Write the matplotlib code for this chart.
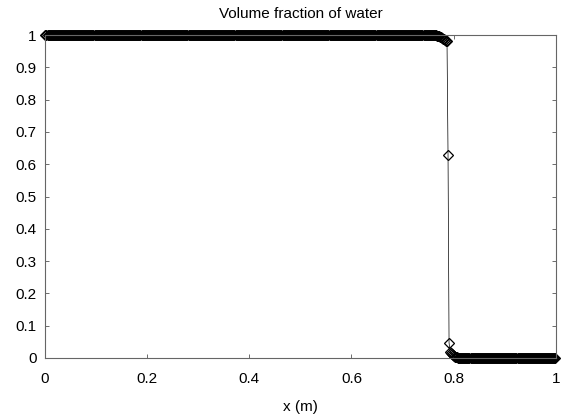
import numpy as np
import matplotlib.pyplot as plt

plt.rcParams['font.family'] = ['Liberation Sans', 'DejaVu Sans']

# mesh: uniform cells on [0, 1]
n_cells = 500
x = (np.arange(n_cells) + 0.5) / n_cells

# water volume fraction
alpha_water = 1.0   # left of the interface
alpha_air = 0.0     # right of the interface
# smeared interface, x ~ 0.759 .. 0.82
interface = [1.0, 0.9998, 0.9995, 0.999, 0.998, 0.997, 0.996, 0.995, 0.993,
             0.991, 0.989, 0.987, 0.985, 0.983, 0.981,
             0.63, 0.047,
             0.02, 0.015, 0.011, 0.008, 0.006, 0.004, 0.003, 0.002, 0.0015,
             0.001, 0.0007, 0.0005, 0.0003, 0.0002, 0.0001]
i_start = 379

alpha = np.concatenate(([alpha_water] * i_start, interface,
                        [alpha_air] * (n_cells - i_start - len(interface))))

xticks = [0, 0.2, 0.4, 0.6, 0.8, 1]
xticklabels = ['0', '0.2', '0.4', '0.6', '0.8', '1']
yticks = [0, 0.1, 0.2, 0.3, 0.4, 0.5, 0.6, 0.7, 0.8, 0.9, 1]
yticklabels = ['0', '0.1', '0.2', '0.3', '0.4', '0.5', '0.6', '0.7', '0.8', '0.9', '1']

fig = plt.figure(figsize=(5.62, 4.17), dpi=100)
ax = fig.add_axes([0.080, 0.1415, 0.909, 0.7745])

ax.plot(x, alpha, '-', color='black', lw=0.5, marker='D', ms=5.6,
        mfc='none', mec='black', mew=0.9, clip_on=False)

ax.set_xlim(0, 1)
ax.set_ylim(0, 1)
ax.set_xticks(xticks)
ax.set_xticklabels(xticklabels)
ax.set_yticks(yticks)
ax.set_yticklabels(yticklabels)
ax.tick_params(direction='in', top=True, right=True, length=3, width=0.6,
               color='#555555', labelsize=11)
ax.tick_params(axis='x', pad=10)
ax.tick_params(axis='y', pad=6)
for s in ax.spines.values():
    s.set_color('#666666')
    s.set_linewidth(0.8)

ax.set_title('Volume fraction of water', fontsize=11, pad=12)
ax.set_xlabel('x (m)', fontsize=11, labelpad=10)

fig.savefig('out.png', dpi=100)
